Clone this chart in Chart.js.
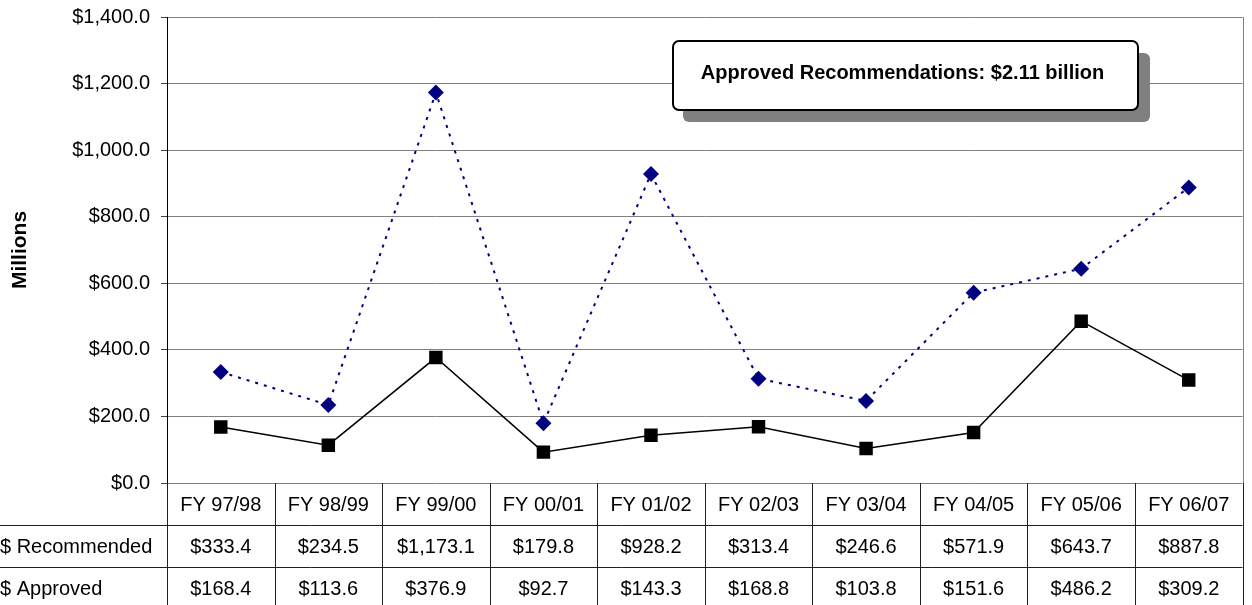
<!DOCTYPE html>
<html>
<head>
<meta charset="utf-8">
<script src="https://cdn.jsdelivr.net/npm/chart.js@4.4.1/dist/chart.umd.min.js"></script>
<style>
  html, body { margin: 0; padding: 0; background: #fff; overflow: hidden; }
  canvas { display: block; }
</style>
</head>
<body>
<canvas id="chart" width="1252" height="605"></canvas>
<script>
// data
const years = ['FY 97/98', 'FY 98/99', 'FY 99/00', 'FY 00/01', 'FY 01/02',
               'FY 02/03', 'FY 03/04', 'FY 04/05', 'FY 05/06', 'FY 06/07'];
const recommended = [333.4, 234.5, 1173.1, 179.8, 928.2, 313.4, 246.6, 571.9, 643.7, 887.8];
const approved = [168.4, 113.6, 376.9, 92.7, 143.3, 168.8, 103.8, 151.6, 486.2, 309.2];
const rowLabels = ['$ Recommended', '$ Approved'];
const noteText = 'Approved Recommendations: $2.11 billion';
const yMin = 0;
const yMax = 1400;
const yStep = 200;

const FONT = "'Liberation Sans', Arial, sans-serif";

function money(v) {
    return '$' + v.toLocaleString('en-US', { minimumFractionDigits: 1, maximumFractionDigits: 1 });
}

// draws the data table under the plot and the note box
const tablePlugin = {
    id: 'dataTable',
    afterDraw(chart) {
        const ctx = chart.ctx;
        const area = chart.chartArea;
        const xs = chart.scales.x;
        const n = years.length;
        const colW = (area.right - area.left) / n;
        const rowH = 42;
        const top = area.bottom;

        ctx.save();

        // plot frame, right side
        ctx.strokeStyle = '#808080';
        ctx.lineWidth = 1;
        ctx.beginPath();
        ctx.moveTo(Math.round(area.right) + 0.5, area.top);
        ctx.lineTo(Math.round(area.right) + 0.5, area.bottom);
        ctx.stroke();

        // table grid
        ctx.strokeStyle = '#202020';
        ctx.beginPath();
        for (let i = 0; i <= n; i++) {
            const px = Math.round(area.left + i * colW) + 0.5;
            ctx.moveTo(px, top);
            ctx.lineTo(px, chart.height);
        }
        for (let r = 1; r <= 2; r++) {
            const py = Math.round(top + r * rowH) + 0.5;
            ctx.moveTo(0, py);
            ctx.lineTo(area.right, py);
        }
        ctx.stroke();

        // texts
        ctx.fillStyle = '#000';
        ctx.font = '20px ' + FONT;
        ctx.textBaseline = 'middle';
        ctx.textAlign = 'center';
        const rows = [years, recommended.map(money), approved.map(money)];
        rows.forEach((row, r) => {
            const cy = top + r * rowH + rowH / 2 + 1;
            row.forEach((txt, i) => {
                ctx.fillText(txt, xs.getPixelForValue(i), cy);
            });
        });
        ctx.textAlign = 'left';
        rowLabels.forEach((lbl, r) => {
            ctx.fillText(lbl, 0, top + (r + 1) * rowH + rowH / 2 + 1);
        });

        // note box with shadow
        const bx = 673, by = 41, bw = 465, bh = 69;
        ctx.fillStyle = '#808080';
        ctx.beginPath();
        ctx.roundRect(bx + 10, by + 12, bw + 2, bh, 6);
        ctx.fill();
        ctx.fillStyle = '#fff';
        ctx.strokeStyle = '#000';
        ctx.lineWidth = 2;
        ctx.beginPath();
        ctx.roundRect(bx, by, bw, bh, 6);
        ctx.fill();
        ctx.stroke();
        ctx.fillStyle = '#000';
        ctx.font = 'bold 20px ' + FONT;
        ctx.textAlign = 'center';
        ctx.textBaseline = 'alphabetic';
        ctx.fillText(noteText, bx + bw / 2 - 3, by + 38);

        ctx.restore();
    }
};

new Chart(document.getElementById('chart'), {
    type: 'line',
    data: {
        labels: years,
        datasets: [
            {
                label: '$ Recommended',
                data: recommended,
                borderColor: '#000080',
                borderWidth: 2,
                borderDash: [3, 6],
                pointStyle: 'rectRot',
                pointRadius: 8,
                pointBackgroundColor: '#000080',
                pointBorderWidth: 0,
                tension: 0
            },
            {
                label: '$ Approved',
                data: approved,
                borderColor: '#000',
                borderWidth: 1.5,
                pointStyle: 'rect',
                pointRadius: 9.5,
                pointBackgroundColor: '#000',
                pointBorderWidth: 0,
                tension: 0
            }
        ]
    },
    options: {
        responsive: false,
        animation: false,
        layout: { padding: { top: 17, right: 9, bottom: 122, left: 0 } },
        plugins: {
            legend: { display: false },
            tooltip: { enabled: false }
        },
        scales: {
            x: { display: false, offset: true },
            y: {
                min: yMin,
                max: yMax,
                ticks: {
                    stepSize: yStep,
                    padding: 11,
                    color: '#000',
                    font: { size: 20, family: FONT },
                    callback: (v) => money(v)
                },
                grid: { color: '#808080', tickLength: 6, tickColor: '#404040' },
                border: { color: '#000' },
                title: {
                    display: true,
                    text: 'Millions',
                    color: '#000',
                    font: { size: 21, weight: 'bold', family: FONT },
                    padding: { top: 8, bottom: 0 }
                },
                afterFit(scale) {
                    scale.width = 167;
                    scale.paddingTop = 0;
                    scale.paddingBottom = 0;
                }
            }
        }
    },
    plugins: [tablePlugin]
});
</script>
</body>
</html>
